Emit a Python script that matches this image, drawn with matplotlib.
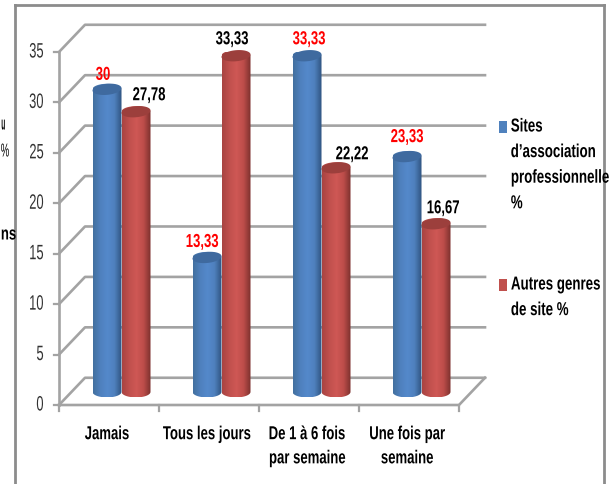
import numpy as np
import matplotlib
matplotlib.use("Agg")
import matplotlib.pyplot as plt
from matplotlib.colors import LinearSegmentedColormap
from matplotlib.patches import Polygon, Rectangle
from matplotlib.patheffects import AbstractPathEffect
from matplotlib.transforms import Affine2D

categories = ["Jamais", "Tous les jours", "De 1 à 6 fois\npar semaine", "Une fois par\nsemaine"]
sites_asso = [30, 13.33, 33.33, 23.33]
autres_sites = [27.78, 33.33, 22.22, 16.67]
sites_labels = ["30", "13,33", "33,33", "23,33"]
autres_labels = ["27,78", "33,33", "22,22", "16,67"]
yticks = [0, 5, 10, 15, 20, 25, 30, 35]

W, H = 614, 484
plt.rcParams["font.family"] = ["Liberation Sans", "DejaVu Sans"]


# no narrow font here, so squeeze the glyphs sideways when the text is drawn
class Squeeze(AbstractPathEffect):
    def __init__(self, sx, anchor="center"):
        super().__init__()
        self.sx = sx
        self.anchor = anchor

    def draw_path(self, renderer, gc, tpath, affine, rgbFace=None):
        ext = tpath.get_extents()
        cx = {"center": (ext.x0 + ext.x1) / 2, "right": ext.x1, "left": ext.x0}[self.anchor]
        squeeze = Affine2D().translate(-cx, 0).scale(self.sx, 1).translate(cx, 0)
        renderer.draw_path(gc, tpath, squeeze + affine, rgbFace)


BOLD = dict(fontsize=13.5, fontweight="bold", path_effects=[Squeeze(0.7)])

fig = plt.figure(figsize=(W / 100, H / 100), dpi=100)
ax = fig.add_axes([59 / W, 1 - 405 / H, 400 / W, 353 / H])
ax.set_xlim(0, 4)
ax.set_ylim(0, 35)
ax.axis("off")

# depth of the fake 3d box, in data units
dx = 0.26
dy = 2.7
grid = "#a3a3a3"

for v in yticks:
    ax.plot([0, dx, 4 + dx], [v, v + dy, v + dy], color=grid, lw=1.9, clip_on=False, zorder=1)
    ax.plot([-0.05, 0], [v, v], color=grid, lw=1.6, clip_on=False, zorder=1)
    ax.text(-0.15, v, str(v), ha="right", va="center", fontsize=15, color="#333333",
            path_effects=[Squeeze(0.62, "right")])
ax.plot([0, 0], [0, 35], color=grid, lw=1.9, clip_on=False, zorder=1)
ax.plot([0, 4, 4 + dx], [0, 0, dy], color=grid, lw=1.9, clip_on=False, zorder=1)
for i in range(5):
    ax.plot([i, i], [0, -0.6], color=grid, lw=1.6, clip_on=False, zorder=1)

blue_map = LinearSegmentedColormap.from_list("b", ["#42709f", "#4f80bd", "#5489cb", "#4f80bd", "#2f5480"])
red_map = LinearSegmentedColormap.from_list("r", ["#a84442", "#c0504d", "#cf5855", "#bd4d4a", "#7c302e"])
gradient = np.linspace(0, 1, 64).reshape(1, -1)


def cylinder(x, value, cmap, top_colour, z):
    hw = 0.145
    ry = 0.55
    base = 1.3
    top = base + value
    t = np.linspace(0, np.pi, 40)
    xs = np.concatenate([x - hw * np.cos(t), x + hw * np.cos(t)])
    ys = np.concatenate([base - ry * np.sin(t), top + ry * np.sin(t)])
    body = Polygon(np.column_stack([xs, ys]), closed=True, fc="none", ec="none",
                   transform=ax.transData, clip_on=False)
    ax.add_patch(body)
    im = ax.imshow(gradient, cmap=cmap, extent=[x - hw, x + hw, base - ry, top + ry],
                   aspect="auto", zorder=z, clip_on=True)
    im.set_clip_path(body)
    th = np.linspace(0, 2 * np.pi, 60)
    # the lid leans a little, right side up
    lid_y = top + ry * np.sin(th) + 0.12 * np.cos(th)
    lid = Polygon(np.column_stack([x + hw * np.cos(th), lid_y]), closed=True,
                  fc=top_colour, ec="none", zorder=z + 0.1, clip_on=False)
    ax.add_patch(lid)
    return top


blue_off = [-4, -5, 2, 0]
red_off = [13, -4, 16, 7]
blue_up = [14, 15, 16, 19]
red_up = [16, 16, 13, 15]
for i in range(len(categories)):
    tb = cylinder(i + 0.48, sites_asso[i], blue_map, "#3f6a9f", 3)
    tr = cylinder(i + 0.77, autres_sites[i], red_map, "#9c3f3c", 4)
    ax.annotate(sites_labels[i], (i + 0.48, tb), xytext=(blue_off[i] * 0.72, blue_up[i] * 0.72),
                textcoords="offset points", ha="center", va="center", color="#ff0000",
                annotation_clip=False, zorder=6, **BOLD)
    ax.annotate(autres_labels[i], (i + 0.77, tr), xytext=(red_off[i] * 0.72, red_up[i] * 0.72),
                textcoords="offset points", ha="center", va="center", color="black",
                annotation_clip=False, zorder=6, **BOLD)
    ax.text(i + 0.48, -2.1, categories[i], ha="center", va="top", linespacing=1.55, clip_on=False, **BOLD)
ax.set_xlim(0, 4)
ax.set_ylim(0, 35)

# legend written by hand, the lines sit far apart in the original
legend = [("#4f81bd", 127, ["Sites", "d’association", "professionnelle", "%"]),
          ("#c0504d", 285, ["Autres genres", "de site %"])]
renderer = fig.canvas.get_renderer()
sx = 0.71
for colour, top_y, lines in legend:
    fig.add_artist(Rectangle((499 / W, 1 - (top_y + 6) / H), 8 / W, 12 / H, fc=colour, ec="none",
                             transform=fig.transFigure))
    for k, line in enumerate(lines):
        t = fig.text(0.5, 1 - (top_y + k * 25.6) / H, line, ha="right", va="center", fontsize=13.5,
                     fontweight="bold", path_effects=[Squeeze(sx, "right")])
        w = t.get_window_extent(renderer).width
        t.set_x((511 + sx * w) / W)

# outer frame and the cut off axis title on the left
fig.add_artist(plt.Line2D([15 / W, 15 / W], [0, 1 - 5 / H], color="#8c8c8c", lw=2))
fig.add_artist(plt.Line2D([15 / W, 604 / W], [1 - 5 / H, 1 - 5 / H], color="#8c8c8c", lw=2))
fig.add_artist(plt.Line2D([604 / W, 604 / W], [0, 1 - 5 / H], color="#8c8c8c", lw=2))
for txt, y, squeeze_x in [("u", 125, 0.35), ("%", 152, 0.5), ("ns", 235, 0.7)]:
    fig.text(0.5 / W, 1 - y / H, txt, ha="left", va="center", fontsize=13.5,
             fontweight="normal" if txt == "%" else "bold", path_effects=[Squeeze(squeeze_x, "left")])

fig.savefig("out.png", dpi=100, facecolor="white")
